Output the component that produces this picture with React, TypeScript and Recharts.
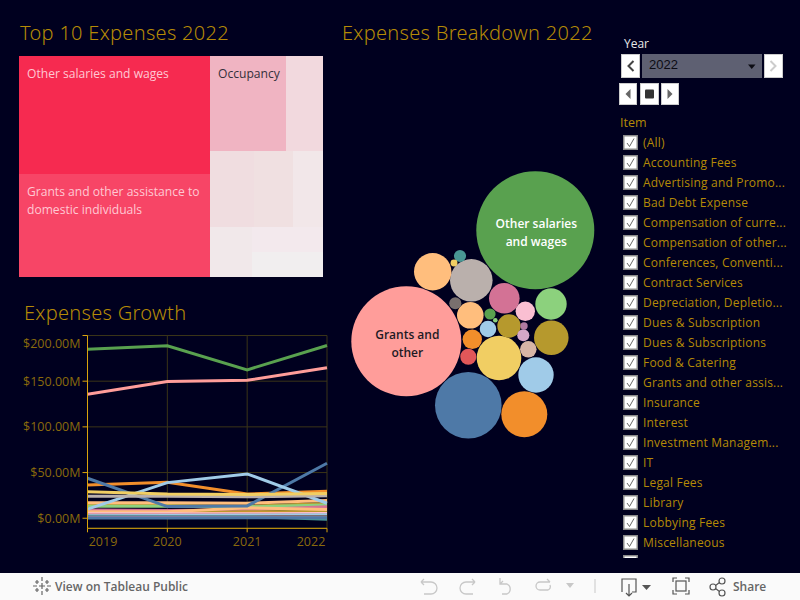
import {
  CartesianGrid,
  Line,
  LineChart,
  Scatter,
  ScatterChart,
  Treemap,
  XAxis,
  YAxis,
  ZAxis,
  Cell,
} from "recharts";

const BG = "#00001f";
const GOLD = "#b58a06";
const TICK_GOLD = "#8a6a0c";
const AXIS_GOLD = "#d9a40c";
const GRID = "#3a3418";
const FONT = "'Open Sans', 'Noto Sans', sans-serif";

// treemap, top 10 items of 2022 ($M)
const topNames = [
  "Other salaries and wages",
  "Grants and other assistance to domestic individuals",
  "Occupancy",
  "Item 4",
  "Item 5",
  "Item 6",
  "Item 7",
  "Item 8",
  "Item 9",
  "Item 10",
];
const topValues = [189, 165, 60.5, 29.5, 28, 25, 19, 17.6, 15, 15];
const topColors = [
  "#f62a50",
  "#f74566",
  "#f0b4c2",
  "#f2d9de",
  "#f0dde0",
  "#f0e0e1",
  "#f2e7e9",
  "#f1e8ea",
  "#f3e9ed",
  "#f1eeef",
];

// line chart
const years = ["2019", "2020", "2021", "2022"];
const yTicks = [0, 50, 100, 150, 200];
const teal = [2, 2, 2, -1];
const purple = [1, 1, 1, 0.8];
const grey = [2.2, 2, 2, 2];
const lightBlueSmall = [3.2, 3.4, 3.5, 3.7];
const redSeries = [3.6, 3.5, 3.5, 3.5];
const tanSmall = [4, 4, 3.8, 3.8];
const pinkLight = [5, 5, 5, 5.1];
const orangeSmall = [4.6, 5, 5.5, 5.1];
const oliveSmall = [6, 6, 7, 7.4];
const lightOrange2 = [7, 7, 11.5, 9.6];
const pinkSeries = [9, 8.5, 9, 12.7];
const olive = [14.5, 14, 13, 16.2];
const lightGreen = [13, 13, 12.5, 14.5];
const lightOrange = [17, 17, 16.5, 19.5];
const tan = [24, 24, 23.5, 24.5];
const orange = [36.5, 39.4, 26.6, 29.5];
const yellow = [29, 26.5, 26, 27];
const occupancy = [43.8, 12.8, 13.5, 60.2];
const lightBlue = [10, 39, 48.5, 16.4];
const grants = [135.8, 149.6, 151, 164.6];
const salaries = [185, 188.7, 162.4, 189];
const lowBlue = [0.4, 0.4, 0.5, 0.5];

const lineSeries: [string, number[], string][] = [
  ["olive", olive, "#b6992d"],
  ["lightGreen", lightGreen, "#8cd17d"],
  ["lightOrange", lightOrange, "#ffbe7d"],
  ["pinkSeries", pinkSeries, "#d37295"],
  ["oliveSmall", oliveSmall, "#b6992d"],
  ["orangeSmall", orangeSmall, "#f28e2b"],
  ["lightOrange2", lightOrange2, "#ffbe7d"],
  ["tanSmall", tanSmall, "#d7b5a6"],
  ["pinkLight", pinkLight, "#fabfd2"],
  ["redSeries", redSeries, "#e15759"],
  ["lightBlueSmall", lightBlueSmall, "#a0cbe8"],
  ["grey", grey, "#79706e"],
  ["teal", teal, "#499894"],
  ["purple", purple, "#b07aa1"],
  ["orange", orange, "#f28e2b"],
  ["occupancy", occupancy, "#4e79a7"],
  ["lightBlue", lightBlue, "#a0cbe8"],
  ["tan", tan, "#bab0ac"],
  ["yellow", yellow, "#f1ce63"],
  ["grants", grants, "#ff9d9a"],
  ["salaries", salaries, "#59a14f"],
  ["lowBlue", lowBlue, "#4e79a7"],
];

const lineData = years.map((year, i) => {
  const row: Record<string, string | number> = { year };
  lineSeries.forEach(([key, values]) => {
    row[key] = values[i];
  });
  return row;
});

const packX = [195.3, 66.3, 128.3, 184.3, 159, 131.3, 92.7, 196, 211.3, 164.3, 211, 130.3, 169, 185.3, 132.3, 148, 128.3, 188.3, 115.3, 150, 120, 183.3, 184, 114, 155.3];
const packY = [70.3, 181.3, 245.3, 254.3, 198, 120.3, 111.7, 215, 177.7, 138.3, 144, 155.3, 166, 151.3, 179.3, 169, 196.7, 189.3, 143.3, 154, 96, 175.3, 166, 103, 160.3];
const packValues = [189, 164.2, 60.2, 28.7, 27, 24.6, 19, 17, 16.2, 12.7, 13.4, 9.6, 7.4, 5.1, 5.1, 3.7, 3.5, 3.7, 2, 1.7, 2, 2, 0.74, 0.66, 0.29];
const packColors = [
  "#59a14f", "#ff9d9a", "#4e79a7", "#f28e2b", "#f1ce63", "#bab0ac", "#ffbe7d", "#a0cbe8", "#b6992d", "#d37295",
  "#8cd17d", "#ffbe7d", "#b6992d", "#fabfd2", "#f28e2b", "#a0cbe8", "#e15759", "#d7b5a6", "#79706e", "#59a14f",
  "#499894", "#d4a6c8", "#b07aa1", "#f1ce63", "#8cd17d",
];
const packData = packValues.map((value, i) => ({ x: packX[i], y: packY[i], value }));
const packLabels: Record<number, string[]> = {
  189: ["Other salaries", "and wages"],
  164.2: ["Grants and", "other"],
};

const filterItems = [
  "(All)",
  "Accounting Fees",
  "Advertising and Promo...",
  "Bad Debt Expense",
  "Compensation of curre...",
  "Compensation of other...",
  "Conferences, Conventi...",
  "Contract Services",
  "Depreciation, Depletio...",
  "Dues & Subscription",
  "Dues & Subscriptions",
  "Food & Catering",
  "Grants and other assis...",
  "Insurance",
  "Interest",
  "Investment Managem...",
  "IT",
  "Legal Fees",
  "Library",
  "Lobbying Fees",
  "Miscellaneous",
];

const TreeCell = (props: any) => {
  const { x, y, width, height, depth, index } = props;
  if (depth !== 1) return <g />;
  const textColor = index < 2 ? "#ffc8d3" : "#33303a";
  let lines: string[] = [];
  if (index === 0) lines = ["Other salaries and wages"];
  if (index === 1) lines = ["Grants and other assistance to", "domestic individuals"];
  if (index === 2) lines = ["Occupancy"];
  return (
    <g>
      <rect x={x} y={y} width={width} height={height} fill={topColors[index]} />
      {lines.map((line, i) => (
        <text
          key={line}
          x={x + 8}
          y={y + 22 + i * 18}
          fill={textColor}
          fontSize={12.1}
          fontFamily={FONT}
        >
          {line}
        </text>
      ))}
    </g>
  );
};

const Bubble = (props: any) => {
  const { cx, cy, size, fill, payload } = props;
  const r = Math.sqrt(size / Math.PI);
  const lines = packLabels[payload.value] || [];
  return (
    <g>
      <circle cx={cx} cy={cy} r={r} fill={fill} />
      {lines.map((line, i) => (
        <text
          key={line}
          x={cx + 1}
          y={cy + (i - 0.5) * 18 + 7}
          textAnchor="middle"
          fill={payload.value === 189 ? "#ffffff" : "#1d1a24"}
          fontSize={12}
          fontWeight={600}
          fontFamily={FONT}
        >
          {line}
        </text>
      ))}
    </g>
  );
};

const YTick = (props: any) => {
  const { x, y, payload } = props;
  return (
    <text
      x={x}
      y={y + (payload.value === 200 ? 8 : 0)}
      dy={4.5}
      textAnchor="end"
      fill={TICK_GOLD}
      fontSize={12.5}
      fontFamily={FONT}
    >
      ${payload.value.toFixed(2)}M
    </text>
  );
};

const XTick = (props: any) => {
  const { x, y, payload, index } = props;
  const shift = index === 0 ? 15.5 : index === 3 ? -16 : 0;
  return (
    <text x={x + shift} y={y} dy={12} textAnchor="middle" fill={TICK_GOLD} fontSize={12.5} fontFamily={FONT}>
      {payload.value}
    </text>
  );
};

const Title = ({ x, y, text }: { x: number; y: number; text: string }) => (
  <div
    style={{
      position: "absolute",
      left: x,
      top: y,
      color: GOLD,
      fontSize: 20,
      fontFamily: "'Noto Sans', sans-serif",
      fontWeight: 300,
      letterSpacing: 0.3,
      lineHeight: "24px",
      whiteSpace: "nowrap",
    }}
  >
    {text}
  </div>
);

const Arrow = ({ x, y, w, h, glyph, color = "#444" }: any) => (
  <svg style={{ position: "absolute", left: x, top: y }} width={w} height={h}>
    <rect x={0.5} y={0.5} width={w - 1} height={h - 1} fill="#fff" stroke="#ccc" />
    {glyph === "<" && <path d={`M${w / 2 + 3} ${h / 2 - 5}L${w / 2 - 2} ${h / 2}L${w / 2 + 3} ${h / 2 + 5}`} fill="none" stroke={color} strokeWidth={2} />}
    {glyph === ">" && <path d={`M${w / 2 - 3} ${h / 2 - 5}L${w / 2 + 2} ${h / 2}L${w / 2 - 3} ${h / 2 + 5}`} fill="none" stroke={color} strokeWidth={2} />}
    {glyph === "left" && <path d={`M${w / 2 + 2.5} ${h / 2 - 5}L${w / 2 - 2.5} ${h / 2}L${w / 2 + 2.5} ${h / 2 + 5}Z`} fill={color} />}
    {glyph === "right" && <path d={`M${w / 2 - 2.5} ${h / 2 - 5}L${w / 2 + 2.5} ${h / 2}L${w / 2 - 2.5} ${h / 2 + 5}Z`} fill={color} />}
    {glyph === "stop" && <rect x={w / 2 - 4.5} y={h / 2 - 4.5} width={9} height={9} rx={1} fill="#333" />}
  </svg>
);

const Checkbox = ({ top }: { top: number }) => (
  <svg style={{ position: "absolute", left: 3, top }} width={15} height={15}>
    <rect x={0.75} y={0.75} width={13.5} height={13.5} fill="#fff" stroke="#8a8a8a" strokeWidth={1.5} />
    <path d="M4 8L6.5 11.5L11 3.5" fill="none" stroke="#666" strokeWidth={1} />
  </svg>
);

const FilterPanel = () => (
  <>
    <div style={{ position: "absolute", left: 624, top: 35, color: "#e8e8e8", fontSize: 12, fontFamily: FONT }}>Year</div>
    <Arrow x={621} y={54} w={19} h={24} glyph="<" />
    <div
      style={{
        position: "absolute",
        left: 642,
        top: 54,
        width: 120,
        height: 24,
        background: "#5e6072",
        color: "#0c0c14",
        fontSize: 13,
        lineHeight: "22px",
        fontFamily: "'Liberation Sans', sans-serif",
        paddingLeft: 7,
        boxSizing: "border-box",
      }}
    >
      2022
      <svg style={{ position: "absolute", left: 105, top: 10 }} width={10} height={6}>
        <path d="M1 0.5H8.5L4.75 5Z" fill="#0c0c14" />
      </svg>
    </div>
    <Arrow x={764} y={54} w={19} h={24} glyph=">" color="#ccc" />
    <Arrow x={619} y={83} w={18} h={22} glyph="left" color="#666" />
    <Arrow x={640} y={83} w={19} h={22} glyph="stop" />
    <Arrow x={661} y={83} w={18} h={22} glyph="right" color="#666" />
    <div style={{ position: "absolute", left: 620, top: 114, color: GOLD, fontSize: 12.5, fontFamily: FONT }}>Item</div>
    <div style={{ position: "absolute", left: 620, top: 133, width: 180, height: 425, overflow: "hidden" }}>
      {filterItems.map((item, i) => (
        <div key={item} style={{ position: "absolute", left: 0, top: i * 20, height: 20, whiteSpace: "nowrap" }}>
          <Checkbox top={2} />
          <span style={{ position: "absolute", left: 23, top: 1, color: GOLD, fontSize: 12, lineHeight: "18px", fontFamily: FONT, letterSpacing: 0.2 }}>
            {item}
          </span>
        </div>
      ))}
      <Checkbox top={filterItems.length * 20 + 2} />
    </div>
  </>
);

const Toolbar = () => (
  <svg style={{ position: "absolute", left: 0, top: 573 }} width={800} height={27}>
    <rect width={800} height={27} fill="#fafafa" />
    <g stroke="#666" strokeWidth={1.2}>
      <path d="M42 4V8M42 10V16M42 18V22M33 13H37M39 13H45M47 13H51M37 7V11M35 9H39M47 7V11M45 9H49M37 15V19M35 17H39M47 15V19M45 17H49" />
    </g>
    <text x={55} y={18} fill="#666" fontSize={12} fontWeight={600} fontFamily={FONT}>
      View on Tableau Public
    </text>
    <g fill="none" stroke="#c8c8c8" strokeWidth={1.3}>
      <path d="M421 9H431A6 6 0 0 1 431 21H424M421 9L424 6M421 9L424 12" />
      <path d="M475 9H466A6 6 0 0 0 466 21H473M475 9L472 6M475 9L472 12" />
      <path d="M500 5V11H507A5.5 5.5 0 0 1 507 21H502M500 11L503 8" />
      <path d="M550 9H540A4 4 0 0 0 540 17H548A4 4 0 0 0 550 12M550 9L547 6" />
    </g>
    <path d="M566 10H574L570 15Z" fill="#c8c8c8" />
    <path d="M595 6V20" stroke="#c8c8c8" />
    <g fill="none" stroke="#555" strokeWidth={1.2}>
      <path d="M622 19V6H636V19H632M629 11V23M626 20L629 23L632 20" />
      <path d="M673 9V5H677M685 5H689V9M689 17V21H685M677 21H673V17" />
      <rect x={676} y={8} width={10} height={10} />
      <circle cx={713} cy={14} r={3} />
      <circle cx={722} cy={8} r={3} />
      <circle cx={722} cy={20} r={3} />
      <path d="M715.5 12.5L719.5 9.5M715.5 15.5L719.5 18.5" />
    </g>
    <path d="M642 12H651L646.5 17Z" fill="#555" />
    <text x={733} y={18} fill="#666" fontSize={12} fontWeight={600} fontFamily={FONT}>
      Share
    </text>
  </svg>
);

export default function App() {
  return (
    <div style={{ position: "absolute", left: 0, top: 0, width: 800, height: 600, background: BG, overflow: "hidden" }}>
      <style>{`body{margin:0;background:${BG}}`}</style>

      <Title x={20} y={21} text="Top 10 Expenses 2022" />
      <div style={{ position: "absolute", left: 19, top: 56 }}>
        <Treemap
          width={304}
          height={221}
          data={topNames.map((name, i) => ({ name, value: topValues[i] }))}
          dataKey="value"
          type="flat"
          stroke="none"
          isAnimationActive={false}
          isUpdateAnimationActive={false}
          content={TreeCell as any}
        />
      </div>

      <Title x={24} y={301} text="Expenses Growth" />
      <div style={{ position: "absolute", left: 0, top: 290 }}>
        <LineChart
          width={340}
          height={280}
          data={lineData}
          margin={{ top: 45.5, right: 13, bottom: 0, left: 0 }}
        >
          <CartesianGrid stroke={GRID} strokeWidth={1} />
          <XAxis
            dataKey="year"
            height={41.7}
            interval={0}
            stroke={AXIS_GOLD}
            tickSize={4}
            tick={XTick}
          />
          <YAxis
            width={87.5}
            domain={[-11, 200]}
            ticks={yTicks}
            stroke={AXIS_GOLD}
            tickSize={5}
            tickMargin={2}
            tick={YTick}
          />
          {lineSeries.map(([key, , color]) => (
            <Line
              key={key}
              dataKey={key}
              stroke={color}
              strokeWidth={3}
              dot={false}
              type="linear"
              isAnimationActive={false}
            />
          ))}
        </LineChart>
      </div>

      <Title x={342} y={21} text="Expenses Breakdown 2022" />
      <div style={{ position: "absolute", left: 340, top: 160 }}>
        <ScatterChart width={270} height={290} margin={{ top: 0, right: 0, bottom: 0, left: 0 }}>
          <XAxis type="number" dataKey="x" domain={[0, 270]} hide />
          <YAxis type="number" dataKey="y" domain={[0, 290]} reversed hide />
          <ZAxis type="number" dataKey="value" domain={[0, 189]} range={[0, 10936]} />
          <Scatter data={packData} shape={Bubble} isAnimationActive={false}>
            {packData.map((_, i) => (
              <Cell key={i} fill={packColors[i]} />
            ))}
          </Scatter>
        </ScatterChart>
      </div>

      <FilterPanel />
      <Toolbar />
    </div>
  );
}
